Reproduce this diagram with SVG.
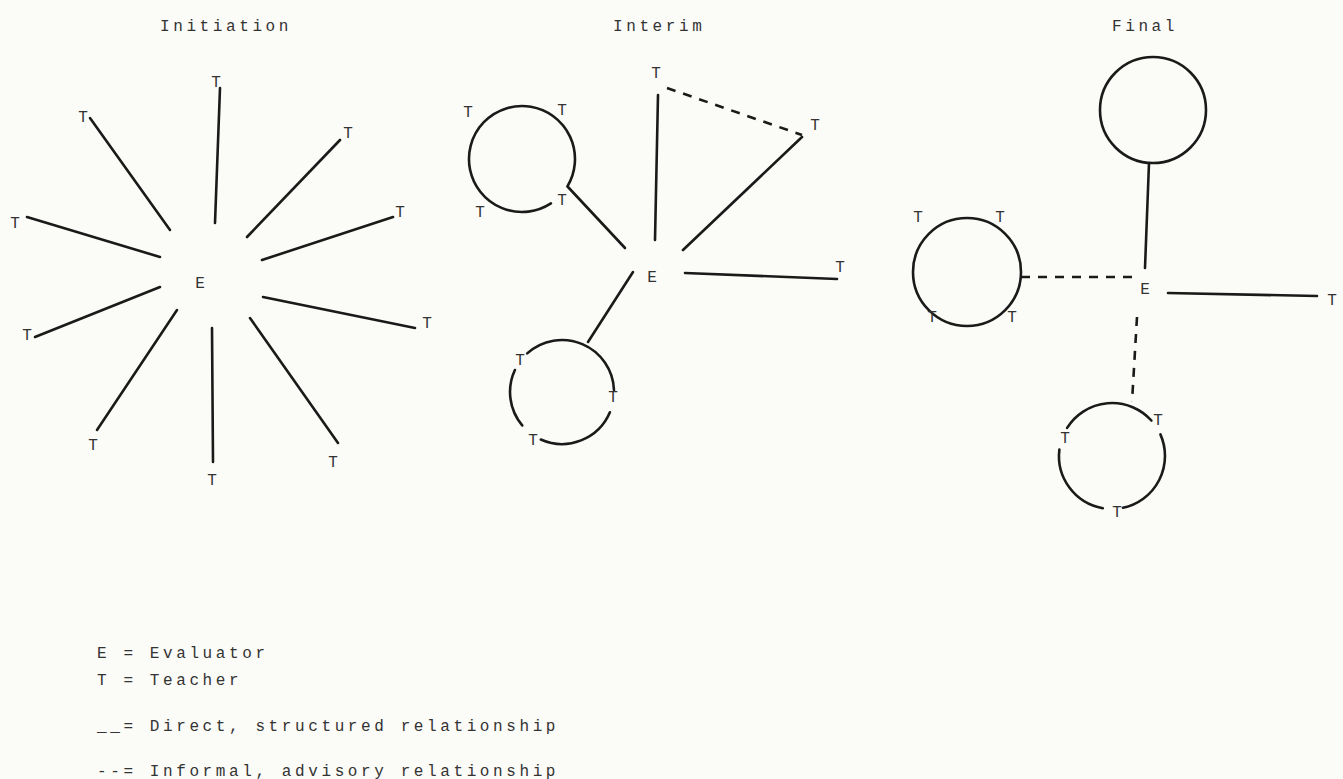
<svg xmlns="http://www.w3.org/2000/svg" width="1343" height="779" viewBox="0 0 1343 779">
<style>
.bg{fill:#fbfbf7}
.t{font-family:"Liberation Mono","DejaVu Sans Mono",monospace;font-size:16px;fill:#333;text-anchor:middle}
.lbl{font-family:"Liberation Mono","DejaVu Sans Mono",monospace;font-size:16px;fill:#333;letter-spacing:3.6px}
.s{stroke:#1a1a1a;stroke-width:2.6;fill:none;stroke-linecap:round}
.d{stroke:#1a1a1a;stroke-width:2.6;fill:none;stroke-dasharray:9 8}
</style>
<rect class="bg" x="0" y="0" width="1343" height="779"/>
<g id="titles">
<text class="lbl" x="160" y="31">Initiation</text>
<text class="lbl" x="613" y="31">Interim</text>
<text class="lbl" x="1112" y="31">Final</text>
</g>
<g id="connectors">
<!-- Initiation -->
<line class="s" x1="220" y1="88" x2="215" y2="223"/>
<line class="s" x1="90" y1="118" x2="170" y2="230"/>
<line class="s" x1="340" y1="140" x2="247" y2="237"/>
<line class="s" x1="393" y1="217" x2="262" y2="260"/>
<line class="s" x1="27" y1="217" x2="160" y2="257"/>
<line class="s" x1="35" y1="337" x2="160" y2="287"/>
<line class="s" x1="263" y1="297" x2="415" y2="328"/>
<line class="s" x1="97" y1="430" x2="177" y2="310"/>
<line class="s" x1="212" y1="328" x2="213" y2="462"/>
<line class="s" x1="250" y1="318" x2="338" y2="443"/>
<!-- Interim -->
<line class="s" x1="658" y1="95" x2="655" y2="240"/>
<line class="d" x1="667" y1="88" x2="802" y2="135"/>
<line class="s" x1="802" y1="137" x2="683" y2="250"/>
<line class="s" x1="685" y1="273" x2="837" y2="279"/>
<line class="s" x1="568" y1="187" x2="625" y2="248"/>
<line class="s" x1="588" y1="342" x2="633" y2="272"/>
<!-- Final -->
<line class="s" x1="1149" y1="163" x2="1145" y2="268"/>
<line class="s" x1="1168" y1="293" x2="1317" y2="296"/>
<line class="d" x1="1021" y1="277" x2="1133" y2="277"/>
<line class="d" x1="1137" y1="317" x2="1132" y2="402"/>
</g>
<g id="initiation">
<text class="t" x="200" y="288">E</text>
<text class="t" x="83" y="122">T</text>
<text class="t" x="216" y="87">T</text>
<text class="t" x="348" y="138">T</text>
<text class="t" x="400" y="217">T</text>
<text class="t" x="15" y="228">T</text>
<text class="t" x="27" y="340">T</text>
<text class="t" x="427" y="328">T</text>
<text class="t" x="93" y="450">T</text>
<text class="t" x="212" y="485">T</text>
<text class="t" x="333" y="467">T</text>
</g>
<g id="interim">
<text class="t" x="652" y="282">E</text>
<text class="t" x="656" y="78">T</text>
<text class="t" x="815" y="130">T</text>
<text class="t" x="840" y="272">T</text>
<g id="interim-group-1">
<path class="s" d="M 550.9 203.4 A 53 53 0 1 1 567.4 186.3"/>
<text class="t" x="468" y="117">T</text>
<text class="t" x="562" y="115">T</text>
<text class="t" x="480" y="217">T</text>
<text class="t" x="562" y="205">T</text>
</g>
<g id="interim-group-2">
<path class="s" d="M 527.2 353.4 A 52 52 0 0 1 614 390.2"/>
<path class="s" d="M 609.9 412.3 A 52 52 0 0 1 540.8 439.5"/>
<path class="s" d="M 522.2 425.4 A 52 52 0 0 1 514.9 370"/>
<text class="t" x="520" y="365">T</text>
<text class="t" x="613" y="402">T</text>
<text class="t" x="533" y="445">T</text>
</g>
</g>
<g id="final">
<text class="t" x="1145" y="294">E</text>
<text class="t" x="1332" y="305">T</text>
<g id="final-group-top">
<circle class="s" cx="1153" cy="110" r="53"/>
</g>
<g id="final-group-left">
<circle class="s" cx="967" cy="272" r="54"/>
<text class="t" x="918" y="222">T</text>
<text class="t" x="1000" y="222">T</text>
<text class="t" x="932" y="322">T</text>
<text class="t" x="1012" y="322">T</text>
</g>
<g id="final-group-bottom">
<path class="s" d="M 1067.1 427.9 A 53 53 0 0 1 1151.4 420.5"/>
<path class="s" d="M 1160.4 434.4 A 53 53 0 0 1 1123 507.8"/>
<path class="s" d="M 1102.8 508.2 A 53 53 0 0 1 1059.4 449.5"/>
<text class="t" x="1065" y="443">T</text>
<text class="t" x="1158" y="425">T</text>
<text class="t" x="1117" y="517">T</text>
</g>
</g>
<g id="legend">
<text class="lbl" x="97" y="658">E = Evaluator</text>
<text class="lbl" x="97" y="685">T = Teacher</text>
<text class="lbl" x="97" y="731">__= Direct, structured relationship</text>
<text class="lbl" x="97" y="776">--= Informal, advisory relationship</text>
</g>
</svg>
